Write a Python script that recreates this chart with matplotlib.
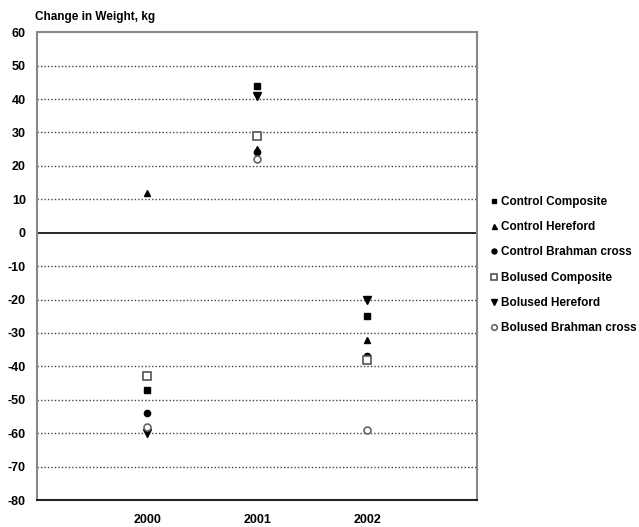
import numpy as np
import matplotlib
matplotlib.use("Agg")
import matplotlib.pyplot as plt

plt.rcParams['font.family'] = ['Liberation Sans', 'DejaVu Sans']
plt.rcParams['axes.unicode_minus'] = False

years = ['2000', '2001', '2002']
series = ['Control Composite', 'Control Hereford', 'Control Brahman cross',
          'Bolused Composite', 'Bolused Hereford', 'Bolused Brahman cross']

# change in weight, kg, per year
control_composite = [-47, 44, -25]
control_hereford = [12, 25, -32]
control_brahman = [-54, 24, -37]
bolused_composite = [-43, 29, -38]
bolused_hereford = [-60, 41, -20]
bolused_brahman = [-58, 22, -59]

values = [control_composite, control_hereford, control_brahman,
          bolused_composite, bolused_hereford, bolused_brahman]
styles = [
    dict(marker='s', ms=4, mfc='black', mec='black'),
    dict(marker='^', ms=4.5, mfc='black', mec='black'),
    dict(marker='o', ms=4.5, mfc='black', mec='black'),
    dict(marker='s', ms=6, mfc='white', mec='#555555', mew=1.2),
    dict(marker='v', ms=5.5, mfc='black', mec='black'),
    dict(marker='o', ms=5, mfc='white', mec='#666666', mew=1.2),
]

fig = plt.figure(figsize=(6.39, 5.27), dpi=100)
ax = fig.add_axes([0.058, 0.051, 0.689, 0.888])

x = np.arange(1, len(years) + 1)
for name, vals, st in zip(series, values, styles):
    ax.plot(x, vals, linestyle='none', label=name, **st, zorder=3)

ax.set_xlim(0, 4)
ax.set_ylim(-80, 60)
ax.set_yticks(np.arange(-80, 61, 10))
ax.set_xticks(x)
ax.set_xticklabels(years, fontweight='bold', fontsize=9)
for lab in ax.get_yticklabels():
    lab.set_fontweight('bold')
    lab.set_fontsize(9)
ax.tick_params(length=0, pad=8)
ax.tick_params(axis='x', pad=10)

for yv in range(-70, 60, 10):
    if yv == 0:
        ax.axhline(0, color='black', lw=1.2, zorder=2)
    else:
        ax.axhline(yv, color='#444444', lw=1, linestyle=(0, (1, 1.5)), zorder=1)

for s in ['left', 'top', 'right']:
    ax.spines[s].set_color('#888888')
    ax.spines[s].set_linewidth(1.5)
ax.spines['bottom'].set_color('#222222')
ax.spines['bottom'].set_linewidth(1.5)

fig.text(0.054, 0.962, 'Change in Weight, kg', fontweight='bold', fontsize=8.5)

fig.legend(loc='center left', bbox_to_anchor=(0.768, 0.497), frameon=False,
           prop=dict(weight='bold', size=8.5), handlelength=0.5,
           handletextpad=0.4, labelspacing=1.12, markerscale=0.8,
           borderaxespad=0, borderpad=0)

fig.savefig('out.png', dpi=100)
